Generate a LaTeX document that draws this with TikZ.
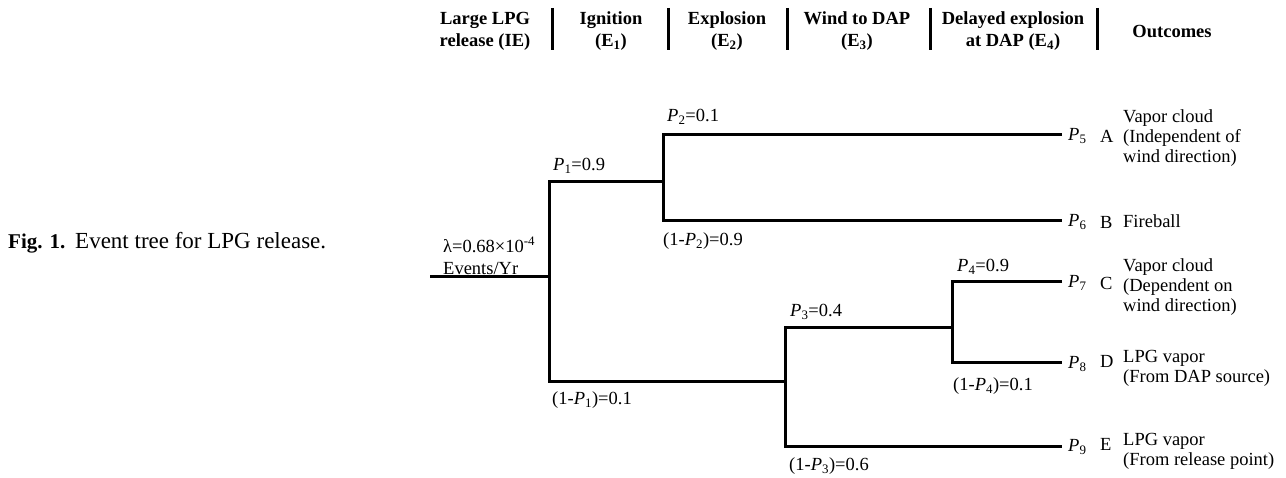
\documentclass[tikz,border=0pt]{standalone}
\usepackage{fontspec}
\setmainfont{Liberation Serif}
\newcommand\Psub[1]{\textit{P}\textsubscript{#1}}
\begin{document}
\begin{tikzpicture}[x=1pt,y=-1pt,
  branch/.style={line width=3pt, line join=miter},
  sepbar/.style={line width=3pt},
  head/.style={inner sep=0pt, align=center, font=\fontsize{18.5}{22}\selectfont\bfseries},
  lab/.style={inner sep=0pt, anchor=west, font=\fontsize{18.5}{20}\selectfont},
  outc/.style={inner sep=0pt, anchor=west, align=left, font=\fontsize{18.5}{20}\selectfont}]
\useasboundingbox (0,0) rectangle (1286,478);

% caption
\node[inner sep=0pt, anchor=base west, font=\fontsize{21}{24}\selectfont\bfseries] (figno) at (8,249) {Fig. 1.};
\node[inner sep=0pt, anchor=base west, font=\fontsize{23}{26}\selectfont] (figcap) at (75,249) {Event tree for LPG release.};

% headers
\node[head] (h0) at (485,31) {Large LPG\\release (IE)};
\node[head] (h1) at (611,31) {Ignition\\(E\textsubscript{1})};
\node[head] (h2) at (727,31) {Explosion\\(E\textsubscript{2})};
\node[head] (h3) at (857,31) {Wind to DAP\\(E\textsubscript{3})};
\node[head] (h4) at (1013,31) {Delayed explosion\\at DAP (E\textsubscript{4})};
\node[head] (h5) at (1172,31) {Outcomes};

\coordinate (b1t) at (552,8);  \coordinate (b1b) at (552,50);
\coordinate (b2t) at (668,8);  \coordinate (b2b) at (668,50);
\coordinate (b3t) at (787,8);  \coordinate (b3b) at (787,50);
\coordinate (b4t) at (930,8);  \coordinate (b4b) at (930,50);
\coordinate (b5t) at (1097,8); \coordinate (b5b) at (1097,50);
\foreach \i in {1,...,5} { \draw[sepbar] (b\i t) -- (b\i b); }

% tree coordinates
\coordinate (a0) at (430,277);
\coordinate (j1) at (549,277);
\coordinate (u1) at (549,182);
\coordinate (d1) at (549,382);
\coordinate (j2) at (663,182);
\coordinate (u2) at (663,135);
\coordinate (d2) at (663,221);
\coordinate (j3) at (785,382);
\coordinate (u3) at (785,328);
\coordinate (d3) at (785,446);
\coordinate (j4) at (952,328);
\coordinate (u4) at (952,282);
\coordinate (d4) at (952,363);
\coordinate (e5) at (1062,135);
\coordinate (e6) at (1062,221);
\coordinate (e7) at (1062,282);
\coordinate (e8) at (1062,363);
\coordinate (e9) at (1062,446);

\draw[branch] (a0) -- (j1);
\draw[branch] (j2) -- (u1) -- (d1) -- (j3);
\draw[branch] (e5) -- (u2) -- (d2) -- (e6);
\draw[branch] (j4) -- (u3) -- (d3) -- (e9);
\draw[branch] (e7) -- (u4) -- (d4) -- (e8);

% branch labels
\node[lab] (lam) at (443,245) {λ=0.68×10\textsuperscript{-4}};
\node[lab] (ev) at (443,268) {Events/Yr};
\node[lab] (p1) at (553,166) {\Psub{1}=0.9};
\node[lab] (q1) at (552,400) {(1-\Psub{1})=0.1};
\node[lab] (p2) at (667,117) {\Psub{2}=0.1};
\node[lab] (q2) at (663,241) {(1-\Psub{2})=0.9};
\node[lab] (p3) at (790,312) {\Psub{3}=0.4};
\node[lab] (q3) at (789,466) {(1-\Psub{3})=0.6};
\node[lab] (p4) at (957,267) {\Psub{4}=0.9};
\node[lab] (q4) at (953,386) {(1-\Psub{4})=0.1};

% outcomes
\node[lab] (p5) at (1068,136) {\Psub{5}};
\node[lab] (p6) at (1068,222) {\Psub{6}};
\node[lab] (p7) at (1068,283) {\Psub{7}};
\node[lab] (p8) at (1068,364) {\Psub{8}};
\node[lab] (p9) at (1068,447) {\Psub{9}};
\node[lab] (la) at (1100,136) {A};
\node[lab] (lb) at (1100,222) {B};
\node[lab] (lc) at (1100,283) {C};
\node[lab] (ld) at (1100,361) {D};
\node[lab] (le) at (1100,444) {E};
\node[outc] (oa) at (1123,138) {Vapor cloud\\(Independent of\\wind direction)};
\node[outc] (ob) at (1123,221) {Fireball};
\node[outc] (oc) at (1123,287) {Vapor cloud\\(Dependent on\\wind direction)};
\node[outc] (od) at (1123,368) {LPG vapor\\(From DAP source)};
\node[outc] (oe) at (1123,451) {LPG vapor\\(From release point)};
\end{tikzpicture}
\end{document}
